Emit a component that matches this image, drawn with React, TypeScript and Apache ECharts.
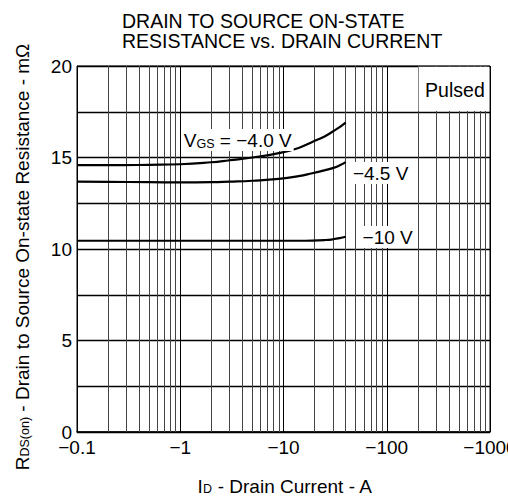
import React, { useEffect, useRef } from "react";
import * as echarts from "echarts";

const titleLines = ["DRAIN TO SOURCE ON-STATE", "RESISTANCE vs. DRAIN CURRENT"];
const drainCurrentA = [-0.1, -0.2, -0.5, -1, -2, -3, -5, -9, -14, -19, -25, -30, -35, -40];
const rdsVgs40 = [14.58, 14.58, 14.6, 14.63, 14.74, 14.85, 15.0, 15.24, 15.52, 15.85, 16.15, 16.42, 16.66, 16.9];
const rdsVgs45 = [13.68, 13.67, 13.65, 13.64, 13.65, 13.68, 13.73, 13.83, 13.98, 14.14, 14.3, 14.42, 14.57, 14.75];
const rdsVgs10 = [10.45, 10.45, 10.45, 10.45, 10.45, 10.45, 10.45, 10.45, 10.45, 10.46, 10.49, 10.53, 10.59, 10.67];
const xTickValues = [-0.1, -1, -10, -100, -1000];
const yTickValues = [0, 5, 10, 15, 20];
const minorGridCurrents = [
  -0.2, -0.3, -0.4, -0.5, -0.6, -0.7, -0.8, -0.9,
  -2, -3, -4, -5, -6, -7, -8, -9,
  -20, -30, -40, -50, -60, -70, -80, -90,
  -200, -300, -400, -500, -600, -700, -800, -900,
];
const curveLabels = [
  { text: "{b|V}{s|GS}{b| = −4.0 V}", current: -1.06, rds: 15.95 },
  { text: "{b|−4.5 V}", current: -46, rds: 14.15 },
  { text: "{b|−10 V}", current: -57, rds: 10.66 },
];
const pulsedBox = { text: "Pulsed", currentFrom: -200, currentTo: -1000, rdsFrom: 17.5, rdsTo: 20 };

const FONT = "Liberation Sans, Arial, sans-serif";

export default function App() {
  const ref = useRef<HTMLDivElement>(null);
  useEffect(() => {
    if (!ref.current) return;
    const chart = echarts.init(ref.current, undefined, { renderer: "svg" });
    const toPts = (vals: number[]) => drainCurrentA.map((c, i) => [Math.abs(c), vals[i]]);
    const curveStyle = { color: "#000", width: 2.2 };
    chart.setOption({
      animation: false,
      backgroundColor: "#fff",
      textStyle: { fontFamily: FONT },
      grid: {
        left: 77,
        right: 18,
        top: 66,
        bottom: 65,
        show: true,
        borderColor: "#000",
        borderWidth: 1,
        containLabel: false,
        outerBoundsMode: "none",
      },
      xAxis: {
        type: "log",
        logBase: 10,
        min: Math.abs(xTickValues[0]),
        max: Math.abs(xTickValues[xTickValues.length - 1]),
        axisLine: { show: true, lineStyle: { color: "#000", width: 1.5 } },
        axisTick: { show: false },
        splitLine: { show: true, lineStyle: { color: "#000", width: 1 } },
        axisLabel: {
          color: "#000",
          fontSize: 19,
          lineHeight: 14,
          fontFamily: FONT,
          margin: 8,
          showMinLabel: true,
          showMaxLabel: true,
          hideOverlap: false,
          formatter: (v: number) => "−" + String(+v.toPrecision(6)),
        },
      },
      yAxis: {
        type: "value",
        min: yTickValues[0],
        max: yTickValues[yTickValues.length - 1],
        interval: 5,
        axisLine: { show: true, lineStyle: { color: "#000", width: 1 } },
        axisTick: { show: false },
        minorTick: { show: false, splitNumber: 2 },
        splitLine: { show: true, lineStyle: { color: "#000", width: 1.3 } },
        minorSplitLine: { show: true, lineStyle: { color: "#000", width: 1.3 } },
        axisLabel: { color: "#000", fontSize: 19, lineHeight: 14, fontFamily: FONT, margin: 5 },
      },
      series: [
        {
          type: "line",
          data: [],
          z: 1,
          silent: true,
          markLine: {
            silent: true,
            symbol: ["none", "none"],
            label: { show: false },
            lineStyle: { color: "#444", width: 1, type: "solid" },
            emphasis: { disabled: true },
            data: minorGridCurrents.map((c) => ({ xAxis: Math.abs(c) })),
          },
        },
        { type: "line", smooth: true, showSymbol: false, z: 5, lineStyle: curveStyle, data: toPts(rdsVgs40) },
        { type: "line", smooth: true, showSymbol: false, z: 5, lineStyle: curveStyle, data: toPts(rdsVgs45) },
        { type: "line", smooth: true, showSymbol: false, z: 5, lineStyle: curveStyle, data: toPts(rdsVgs10) },
      ],
    });

    const px = (c: number, r: number) => chart.convertToPixel({ gridIndex: 0 }, [Math.abs(c), r]) as number[];
    const rich = {
      b: { fontSize: 19, fontFamily: FONT, fill: "#000", color: "#000" },
      s: { fontSize: 12.5, fontFamily: FONT, fill: "#000", color: "#000", verticalAlign: "bottom" },
    };
    const boxA = px(pulsedBox.currentFrom, pulsedBox.rdsTo);
    const boxB = px(pulsedBox.currentTo, pulsedBox.rdsFrom);
    const elements: any[] = [
      {
        type: "rect",
        z: 100,
        shape: { x: boxA[0] + 0.8, y: boxA[1] + 0.8, width: boxB[0] - boxA[0] - 1.6, height: boxB[1] - boxA[1] - 1.6 },
        style: { fill: "#fff" },
      },
      {
        type: "text",
        z: 101,
        x: (boxA[0] + boxB[0]) / 2 + 1,
        y: (boxA[1] + boxB[1]) / 2 + 1,
        style: { text: pulsedBox.text, font: `19.5px ${FONT}`, fill: "#000", align: "center", verticalAlign: "middle" },
      },
      ...curveLabels.map((l) => {
        const p = px(l.current, l.rds);
        return {
          type: "text",
          z: 101,
          x: p[0],
          y: p[1],
          style: {
            text: l.text,
            rich,
            align: "left",
            verticalAlign: "middle",
            backgroundColor: "#fff",
            padding: [2, 2, 1, 1],
          },
        };
      }),
      {
        type: "text",
        z: 101,
        x: 122,
        y: 11,
        style: {
          text: titleLines.join("\n"),
          font: `19.5px ${FONT}`,
          lineHeight: 20,
          fill: "#000",
          align: "left",
          verticalAlign: "top",
        },
      },
      {
        type: "text",
        z: 101,
        x: 285,
        y: 486,
        style: { text: "{b|I}{s|D}{b| - Drain Current - A}", rich, align: "center", verticalAlign: "middle" },
      },
      {
        type: "text",
        z: 101,
        x: 22,
        y: 257,
        rotation: Math.PI / 2,
        style: {
          text: "{b|R}{s|DS(on)}{b| - Drain to Source On-state Resistance - mΩ}",
          rich,
          align: "center",
          verticalAlign: "middle",
        },
      },
    ];
    chart.setOption({ graphic: { elements } });
    return () => chart.dispose();
  }, []);
  return (
    <div
      ref={ref}
      style={{ position: "absolute", left: 0, top: 0, width: 508, height: 497, overflow: "hidden" }}
    />
  );
}
